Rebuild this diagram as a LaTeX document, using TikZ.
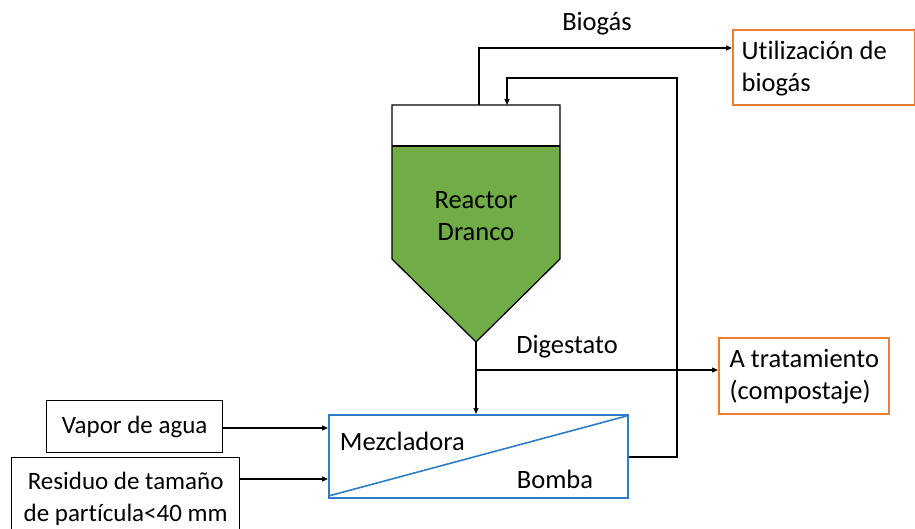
\documentclass[tikz,border=0pt]{standalone}
\usepackage{fontspec}
\setmainfont{Carlito}[Ligatures=NoCommon]
\usetikzlibrary{arrows.meta}
\definecolor{rgreen}{HTML}{70AD47}
\definecolor{borange}{HTML}{ED7D31}
\definecolor{mblue}{HTML}{2E7CC4}
\begin{document}
\begin{tikzpicture}[x=1pt,y=-1pt, line width=1.3pt,
  >={Triangle[length=6pt,width=5pt]},
  big/.style={font=\fontsize{26.5}{32}\selectfont},
  small/.style={font=\fontsize{25}{32}\selectfont},
  obox/.style={draw=borange, line width=1.6pt, inner sep=0pt},
  kbox/.style={draw=black, line width=1.3pt, inner sep=0pt, align=center},
  bbox/.style={draw=mblue, line width=1.6pt, inner sep=0pt}]
\useasboundingbox (0,0) rectangle (915,529);
% reactor
\coordinate (rtl) at (392,105);
\coordinate (rtr) at (560,105);
\coordinate (rgl) at (392,146);
\coordinate (rgr) at (560,146);
\coordinate (rsl) at (392,259);
\coordinate (rsr) at (560,259);
\coordinate (apex) at (476,342);
\fill[rgreen] (rgl) -- (rgr) -- (rsr) -- (apex) -- (rsl) -- cycle;
\draw[line join=miter] (rtl) -- (rtr) -- (rsr) -- (apex) -- (rsl) -- cycle;
\draw (rgl) -- (rgr);
\node[big, align=center] (reactor) at (476,216) {Reactor\\Dranco};
\coordinate (bgout) at (479,105);
\coordinate (rin) at (507,105);
% boxes
\node[obox, anchor=north west, minimum width=182pt, minimum height=75pt] (util) at (732,29) {};
\node[big, anchor=west, align=left, inner sep=0pt] (utilt) at ([xshift=9pt,yshift=-1.5pt]util.west) {Utilización de\\biogás};
\node[obox, anchor=north west, minimum width=170pt, minimum height=76pt] (trat) at (718,337) {};
\node[big, anchor=west, align=left, inner sep=0pt] (tratt) at ([xshift=11pt,yshift=-1pt]trat.west) {A tratamiento\\(compostaje)};
\node[kbox, anchor=north west, minimum width=176pt, minimum height=52pt, small] (vapor) at (46,400) {Vapor de agua};
\node[kbox, anchor=north west, minimum width=228pt, minimum height=82pt, small] (residuo) at (11,457) {Residuo de tamaño\\de partícula<40 mm};
\node[bbox, anchor=north west, minimum width=299pt, minimum height=83pt] (mezcla) at (328,414) {};
\draw[mblue, line width=1.6pt] ([shift={(2,-3)}]mezcla.south west) -- ([shift={(-2,2)}]mezcla.north east);
\node[big, anchor=west] (mezt) at (336,441) {Mezcladora};
\node[big] (bomba) at (555,479) {Bomba};
% labels
\node[big] (biog) at (597,24) {Biogás};
\node[big] (dig) at (567,347) {Digestato};
% connectors
\draw[->] (bgout) |- (util.west |- 0,48);
\draw[->] (mezcla.east |- 0,457) -| (677,78) -| (rin);
\draw[->] (apex) -- (apex |- mezcla.north);
\draw[->] (apex |- 0,370) -- (trat.west |- 0,370);
\draw[->] (vapor.east |- 0,428) -- (mezcla.west |- 0,428);
\draw[->] (residuo.east |- 0,479) -- (mezcla.west |- 0,479);
\end{tikzpicture}
\end{document}
